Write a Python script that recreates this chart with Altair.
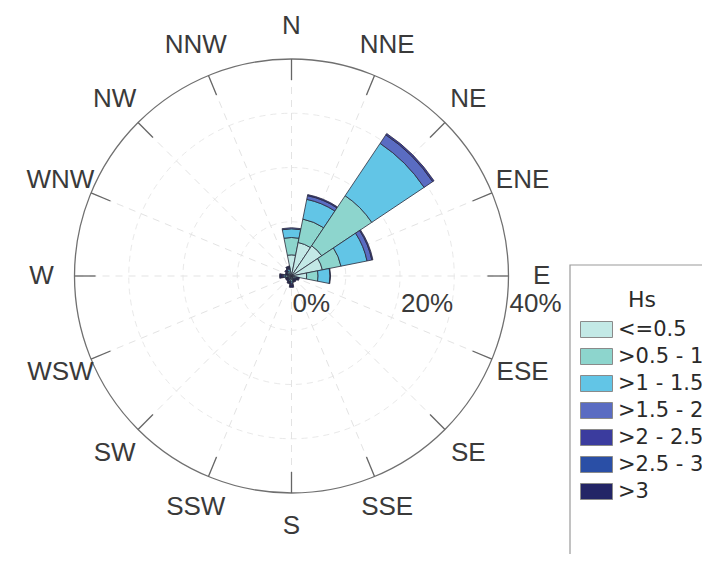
import math
import altair as alt
import pandas as pd

# ---------------- data ----------------
DIRS = ["N", "NNE", "NE", "ENE", "E", "ESE", "SE", "SSE",
        "S", "SSW", "SW", "WSW", "W", "WNW", "NW", "NNW"]
CLASSES = ["<=0.5", ">0.5 - 1", ">1 - 1.5", ">1.5 - 2", ">2 - 2.5", ">2.5 - 3", ">3"]
COLORS = ["#c3e9e6", "#8dd5cd", "#62c5e6", "#5a6cc2", "#3b3c9e", "#2a4fa6", "#232566"]

# frequency (%) of each Hs class per direction
HS_LE_05 = [3.9, 6.3, 6.7, 5.8, 2.8, 0.5, 0.4, 0.4, 0.6, 0.5, 0.4, 0.4, 0.7, 0.4, 0.5, 0.6]
HS_05_1 = [3.2, 4.4, 11.1, 3.5, 2.1, 0.3, 0.2, 0.2, 0.4, 0.3, 0.2, 0.2, 0.4, 0.2, 0.3, 0.4]
HS_1_15 = [1.6, 3.7, 11.6, 4.9, 2.2, 0.2, 0.1, 0.1, 0.3, 0.2, 0.1, 0.1, 0.3, 0.1, 0.2, 0.3]
HS_15_2 = [0.2, 0.7, 1.9, 0.9, 0.1, 0.1, 0.1, 0.1, 0.2, 0.1, 0.1, 0.1, 0.2, 0.1, 0.1, 0.2]
HS_2_25 = [0.0, 0.2, 0.3, 0.2, 0.0, 0.1, 0.1, 0.1, 0.2, 0.1, 0.1, 0.1, 0.2, 0.1, 0.1, 0.1]
HS_25_3 = [0.0, 0.0, 0.0, 0.0, 0.0, 0.1, 0.1, 0.1, 0.1, 0.1, 0.1, 0.1, 0.1, 0.1, 0.1, 0.1]
HS_GT_3 = [0.0, 0.0, 0.0, 0.0, 0.0, 0.2, 0.2, 0.2, 0.3, 0.2, 0.2, 0.2, 0.3, 0.2, 0.2, 0.2]
SERIES = [HS_LE_05, HS_05_1, HS_1_15, HS_15_2, HS_2_25, HS_25_3, HS_GT_3]

RING_TICKS = [0, 20, 40]
GRID_CIRCLES = [10, 20, 30]
RMAX = 40

# ---------------- layout ----------------
W, H = 694, 546
CX, CY = 283.5, 268.0          # centre of the rose inside the view (px)
PX = 217.0 / RMAX              # pixels per percent
STEP = 360.0 / len(DIRS)

xs = alt.Scale(domain=[-CX / PX, (W - CX) / PX], range=[0, W], nice=False, zero=False)
ys = alt.Scale(domain=[-(H - CY) / PX, CY / PX], range=[H, 0], nice=False, zero=False)
rs = alt.Scale(type="linear", domain=[0, RMAX], range=[0, 217], zero=True, nice=False)
ts = alt.Scale(domain=[0, 360], range=[0, 2 * math.pi], zero=False, nice=False)

# ---------------- tables ----------------
rows = []
for i, d in enumerate(DIRS):
    cum = 0.0
    for k, cls in enumerate(CLASSES):
        v = SERIES[k][i]
        if v > 0:
            rows.append(dict(dir=d, cls=cls, a0=i * STEP - STEP / 2, a1=i * STEP + STEP / 2,
                             r0=cum, r1=cum + v))
            cum += v
sectors = pd.DataFrame(rows)

def polar(r, ang):
    a = math.radians(ang)
    return r * math.sin(a), r * math.cos(a)

spokes = pd.DataFrame([dict(x=0.0, y=0.0, x2=polar(RMAX, i * STEP)[0], y2=polar(RMAX, i * STEP)[1])
                       for i in range(len(DIRS))])
ticks = pd.DataFrame([dict(x=polar(RMAX * 0.903, i * STEP)[0], y=polar(RMAX * 0.903, i * STEP)[1],
                           x2=polar(RMAX, i * STEP)[0], y2=polar(RMAX, i * STEP)[1])
                      for i in range(len(DIRS))])
LAB_R = 46.1
dir_labels = pd.DataFrame([dict(t=d, x=polar(LAB_R, i * STEP)[0], y=polar(LAB_R, i * STEP)[1])
                           for i, d in enumerate(DIRS)])
pct_labels = pd.DataFrame([dict(t=f"{v}%", x=v, y=-5.2) for v in RING_TICKS])
grid_c = pd.DataFrame(dict(r=GRID_CIRCLES))
outer_c = pd.DataFrame(dict(r=[RMAX]))

X0 = alt.datum(0, scale=xs, axis=None)
Y0 = alt.datum(0, scale=ys, axis=None)

grid_layer = alt.Chart(grid_c).mark_arc(theta=0, theta2=2 * math.pi, fillOpacity=0,
                                         stroke="#e9e9e9", strokeWidth=1, strokeDash=[6, 5]).encode(
    x=X0, y=Y0, radius=alt.Radius("r:Q", scale=rs, stack=False))

spoke_layer = alt.Chart(spokes).mark_rule(color="#e3e3e3", strokeWidth=1, strokeDash=[7, 6]).encode(
    x=alt.X("x:Q", scale=xs, axis=None), y=alt.Y("y:Q", scale=ys, axis=None), x2="x2:Q", y2="y2:Q")

sector_layer = alt.Chart(sectors).mark_arc(stroke="#2a2a3a", strokeWidth=0.8).encode(
    x=X0, y=Y0,
    theta=alt.Theta("a0:Q", scale=ts, stack=False), theta2="a1:Q",
    radius=alt.Radius("r1:Q", scale=rs, stack=False), radius2="r0:Q",
    color=alt.Color("cls:N", scale=alt.Scale(domain=CLASSES, range=COLORS),
                    legend=alt.Legend(title="Hs", orient="none", legendX=572, legendY=282,
                                      symbolType="M-1,-0.5H1V0.5H-1Z", symbolSize=1024,
                                      symbolStrokeColor="#8a8a8a", symbolStrokeWidth=1,
                                      symbolOpacity=1,
                                      labelFont="DejaVu Sans", labelFontSize=21, labelColor="#2a2a2a",
                                      titleFont="DejaVu Sans", titleFontSize=22, titleColor="#2a2a2a",
                                      titleFontWeight="normal", titleAnchor="middle", titlePadding=4,
                                      clipHeight=27, rowPadding=0, labelOffset=5, labelLimit=300)),
)

outer_layer = alt.Chart(outer_c).mark_arc(theta=0, theta2=2 * math.pi, fillOpacity=0,
                                           stroke="#707070", strokeWidth=1.3).encode(
    x=X0, y=Y0, radius=alt.Radius("r:Q", scale=rs, stack=False))

tick_layer = alt.Chart(ticks).mark_rule(color="#666666", strokeWidth=1.3).encode(
    x=alt.X("x:Q", scale=xs, axis=None), y=alt.Y("y:Q", scale=ys, axis=None), x2="x2:Q", y2="y2:Q")

dir_layer = alt.Chart(dir_labels).mark_text(font="Liberation Sans", fontSize=26, color="#3a3a3a",
                                            align="center", baseline="middle").encode(
    x=alt.X("x:Q", scale=xs, axis=None), y=alt.Y("y:Q", scale=ys, axis=None), text="t:N")

pct_layer = alt.Chart(pct_labels).mark_text(font="Liberation Sans", fontSize=26, color="#3a3a3a",
                                            align="left", baseline="middle", dx=1).encode(
    x=alt.X("x:Q", scale=xs, axis=None), y=alt.Y("y:Q", scale=ys, axis=None), text="t:N")

legend_box = alt.Chart(outer_c).mark_rect(fillOpacity=0, stroke="#9a9a9a", strokeWidth=1.2).encode(
    x=alt.value(562), x2=alt.value(760), y=alt.value(257), y2=alt.value(620))

chart = alt.layer(grid_layer, spoke_layer, sector_layer, outer_layer, tick_layer,
                  dir_layer, pct_layer, legend_box).properties(
    width=W, height=H, padding=0, autosize="none", background="white"
).configure_view(strokeWidth=0)

chart.save("out.html", embed_options={"renderer": "svg", "actions": False})
